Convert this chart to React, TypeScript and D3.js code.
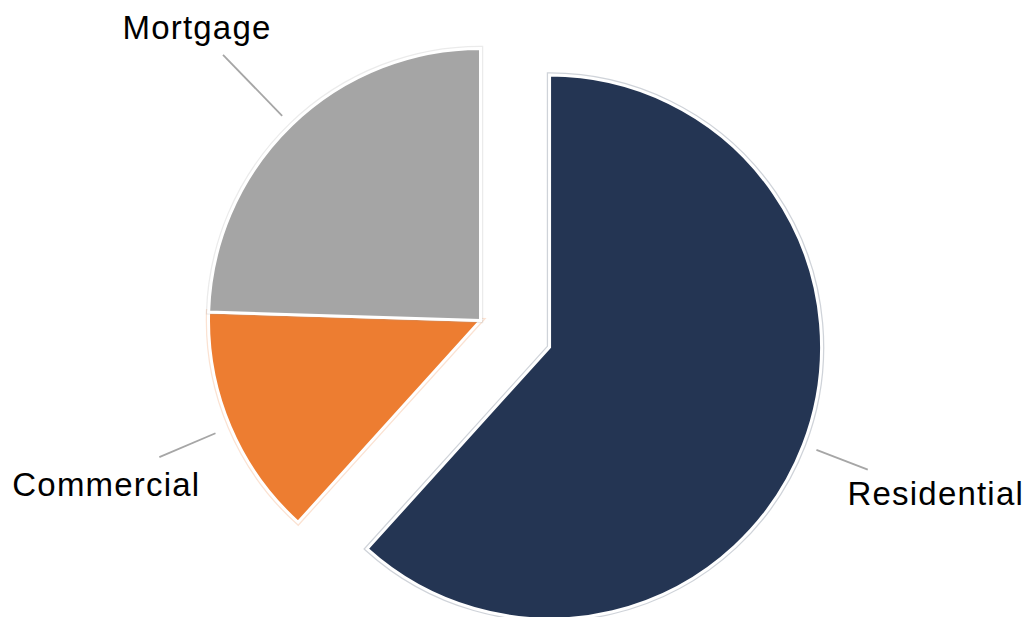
import React from "react";
import * as d3 from "d3";

const categories = ["Residential", "Commercial", "Mortgage"];
const values = [61.7, 13.8, 24.5];
const colors = ["#243553", "#ed7d31", "#a5a5a5"];
const exploded = [true, false, false];

const W = 1025;
const H = 617;
const CX = 480.5;
const CY = 320.5;
const R = 272;
const EXPLODE = 74;
// connector radii (inner, outer) and label offsets from connector end
const connector = [
  { r0: R + 14, r1: R + 69, dx: 68, dy: 35 },
  { r0: R + 16, r1: R + 77, dx: -53, dy: 39 },
  { r0: R + 13, r1: R + 98, dx: -26, dy: -16 },
];

export default function App() {
  const pie = d3.pie<number>().sort(null).value((d) => d)(values);
  const arc = d3.arc<d3.PieArcDatum<number>>().innerRadius(0).outerRadius(R);

  return (
    <svg
      width={W}
      height={H}
      style={{ position: "absolute", left: 0, top: 0, background: "#fff" }}
    >
      {pie.map((p, i) => {
        const mid = (p.startAngle + p.endAngle) / 2;
        const ux = Math.sin(mid);
        const uy = -Math.cos(mid);
        const off = exploded[i] ? EXPLODE : 0;
        const cx = CX + ux * off;
        const cy = CY + uy * off;
        const c = connector[i];
        const x0 = cx + ux * c.r0;
        const y0 = cy + uy * c.r0;
        const x1 = cx + ux * c.r1;
        const y1 = cy + uy * c.r1;
        const d = arc(p) || "";
        return (
          <g key={categories[i]}>
            <g transform={`translate(${cx},${cy})`}>
              <path d={d} fill="none" stroke={colors[i]} strokeOpacity={0.22} strokeWidth={5.5} />
              <path d={d} fill={colors[i]} stroke="#fff" strokeWidth={3} />
            </g>
            <line x1={x0} y1={y0} x2={x1} y2={y1} stroke="#a6a6a6" strokeWidth={1.8} />
            <text
              x={x1 + c.dx}
              y={y1 + c.dy}
              textAnchor="middle"
              fontFamily="'Liberation Sans', Arial, sans-serif"
              fontSize={33}
              letterSpacing={1.2}
              fill="#000"
            >
              {categories[i]}
            </text>
          </g>
        );
      })}
    </svg>
  );
}
